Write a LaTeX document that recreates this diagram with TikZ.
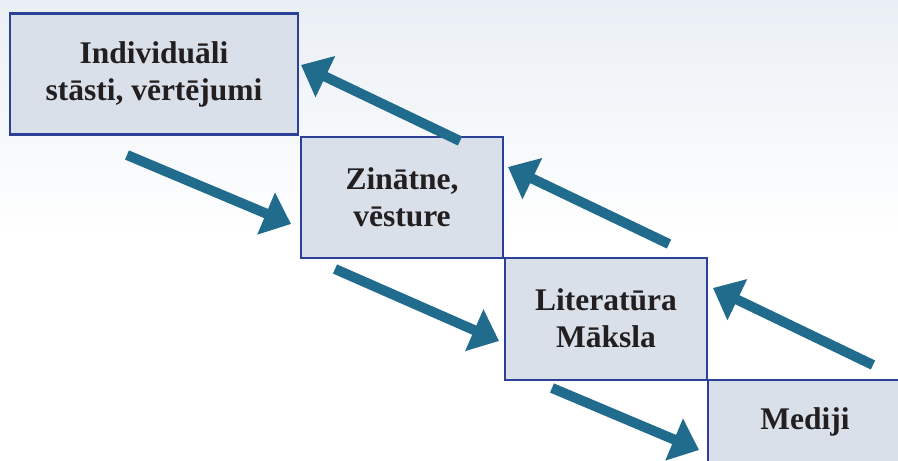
\documentclass[tikz,border=0pt]{standalone}
\usepackage{fontspec}
\setmainfont{Liberation Serif}
\usetikzlibrary{arrows.meta}
\definecolor{boxfill}{RGB}{217,224,233}
\definecolor{boxline}{RGB}{43,64,150}
\definecolor{flow}{RGB}{33,108,140}
\definecolor{ink}{RGB}{35,31,32}
\definecolor{skytop}{RGB}{234,239,245}
\begin{document}
\begin{tikzpicture}[x=1pt,y=-1pt,
  stage/.style={draw=boxline, fill=boxfill, line width=2.8pt, inner sep=0pt},
  caption/.style={text=ink, align=center, font=\bfseries\fontsize{31.5}{37}\selectfont},
  flowarrow/.style={draw=flow, line width=10pt,
    -{Triangle[length=27pt,width=44pt]}}]
  % canvas and soft sky at the top
  \useasboundingbox (0,0) rectangle (898,461);
  \clip (0,0) rectangle (898,461);
  \fill[white] (0,0) rectangle (898,461);
  \shade[top color=skytop, bottom color=white] (0,0) rectangle (898,240);

  % staircase of stages
  \node[stage, minimum width=288pt, minimum height=121pt] (b1) at (154,74) {};
  \node[stage, minimum width=202pt, minimum height=121pt] (b2) at (402,197.5) {};
  \node[stage, minimum width=202pt, minimum height=122pt] (b3) at (606,319) {};
  \node[stage, minimum width=210pt, minimum height=121pt] (b4) at (813,440.5) {};

  \node[caption] (t1) at (154,74) {Individuāli\\stāsti, vērtējumi};
  \node[caption] (t2) at (402,197) {Zinātne,\\vēsture};
  \node[caption] (t3) at (606,318) {Literatūra\\Māksla};
  \node[caption, anchor=base] (t4) at (805,429) {Mediji};

  % arrow ends
  \coordinate (d1s) at (127,155);  \coordinate (d1e) at (291,224);
  \coordinate (d2s) at (335,269);  \coordinate (d2e) at (499,341);
  \coordinate (d3s) at (552,388);  \coordinate (d3e) at (699,450);
  \coordinate (u1s) at (460,141);  \coordinate (u1e) at (301,65);
  \coordinate (u2s) at (669,244);  \coordinate (u2e) at (508,167);
  \coordinate (u3s) at (873,365);  \coordinate (u3e) at (713,288);

  % downward and upward flows
  \draw[flowarrow] (d1s) -- (d1e);
  \draw[flowarrow] (d2s) -- (d2e);
  \draw[flowarrow] (d3s) -- (d3e);
  \draw[flowarrow] (u1s) -- (u1e);
  \draw[flowarrow] (u2s) -- (u2e);
  \draw[flowarrow] (u3s) -- (u3e);
\end{tikzpicture}
\end{document}
